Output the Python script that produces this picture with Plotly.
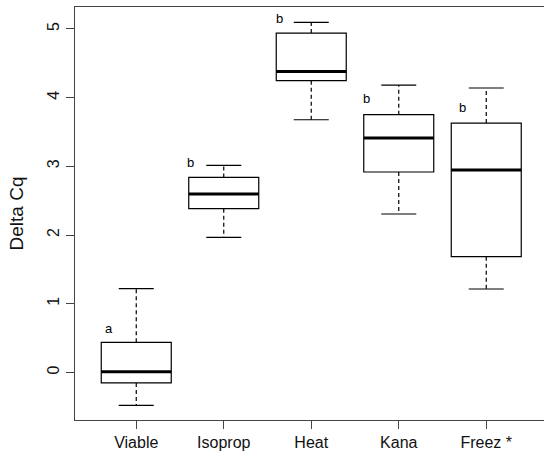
import plotly.graph_objects as go

categories = ["Viable", "Isoprop", "Heat", "Kana", "Freez *"]
lower_whisker = [-0.48, 1.965, 3.678, 2.306, 1.214]
q1_vals = [-0.154, 2.383, 4.246, 2.917, 1.684]
median_vals = [0.01, 2.597, 4.381, 3.412, 2.946]
q3_vals = [0.437, 2.838, 4.94, 3.751, 3.63]
upper_whisker = [1.218, 3.013, 5.095, 4.183, 4.14]
letters = ["a", "b", "b", "b", "b"]
letter_x = [0.69, 1.62, 2.64, 3.63, 4.73]
letter_y = [0.64, 3.05, 5.15, 3.98, 3.86]
y_ticks = [0, 1, 2, 3, 4, 5]

pos = list(range(1, len(categories) + 1))
BOXW = 0.8
CAPW = 0.4

fig = go.Figure()

fig.add_trace(go.Box(
    x=pos, q1=q1_vals, median=median_vals, q3=q3_vals,
    lowerfence=q1_vals, upperfence=q3_vals,
    width=BOXW, whiskerwidth=0,
    fillcolor="white", line=dict(color="black", width=1.2),
    boxpoints=False, showlegend=False, hoverinfo="skip",
))

wx, wy = [], []
for p, a, b, c, d in zip(pos, lower_whisker, q1_vals, q3_vals, upper_whisker):
    wx += [p, p, None, p, p, None]
    wy += [c, d, None, b, a, None]
fig.add_trace(go.Scatter(x=wx, y=wy, mode="lines",
                         line=dict(color="black", width=1.2, dash="4px,3px"),
                         showlegend=False, hoverinfo="skip"))

cx, cy = [], []
for p, a, d in zip(pos, lower_whisker, upper_whisker):
    cx += [p - CAPW / 2, p + CAPW / 2, None, p - CAPW / 2, p + CAPW / 2, None]
    cy += [d, d, None, a, a, None]
fig.add_trace(go.Scatter(x=cx, y=cy, mode="lines",
                         line=dict(color="black", width=1.2),
                         showlegend=False, hoverinfo="skip"))

mx, my = [], []
for p, m in zip(pos, median_vals):
    mx += [p - BOXW / 2, p + BOXW / 2, None]
    my += [m, m, None]
fig.add_trace(go.Scatter(x=mx, y=my, mode="lines",
                         line=dict(color="black", width=3),
                         showlegend=False, hoverinfo="skip"))

for t, x, y in zip(letters, letter_x, letter_y):
    fig.add_annotation(x=x, y=y, text=t, showarrow=False,
                       font=dict(size=13, color="black"))

axis_common = dict(showline=True, mirror=True, linecolor="#444", linewidth=1.2,
                   ticks="outside", ticklen=8, tickcolor="#444", tickwidth=1.2,
                   showgrid=False, zeroline=False, automargin=False)

fig.update_layout(
    width=544, height=457,
    margin=dict(l=75, r=0, t=7, b=37),
    paper_bgcolor="white", plot_bgcolor="white",
    font=dict(family="Liberation Sans, Arial, sans-serif", size=16, color="#111"),
    xaxis=dict(range=[0.3, 5.66], tickvals=pos, ticktext=categories, **axis_common),
    yaxis=dict(range=[-0.693, 5.319], tickvals=y_ticks, tickangle=-90,
               ticklabelstandoff=1,
               title=dict(text="Delta Cq", standoff=15), **axis_common),
)

fig.write_html("out.html", config={"displayModeBar": False},
               post_script="document.body.style.margin='0';")
